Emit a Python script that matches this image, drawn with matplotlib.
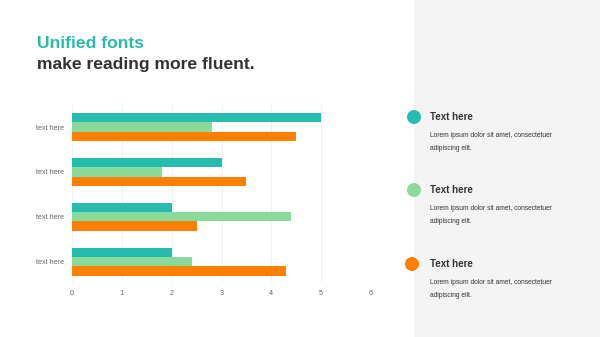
import numpy as np
import matplotlib.pyplot as plt
from matplotlib.patches import Rectangle, Ellipse

plt.rcParams['font.family'] = ['Liberation Sans', 'DejaVu Sans']

categories = ["text here", "text here", "text here", "text here"]
series_a = [5.0, 3.0, 2.0, 2.0]
series_b = [2.8, 1.8, 4.4, 2.4]
series_c = [4.5, 3.5, 2.5, 4.3]
colors = ["#26bdb0", "#8adb9a", "#ff8000"]
legend_titles = ["Text here", "Text here", "Text here"]
legend_body = "Lorem ipsum dolor sit amet, consectetuer\nadipiscing elit."

fig = plt.figure(figsize=(6, 3.37), dpi=100)

# grey side panel
fig.patches.append(Rectangle((414 / 600, 0), 186 / 600, 1, transform=fig.transFigure,
                             facecolor="#f4f4f4", edgecolor="none", zorder=0))

fig.text(37 / 600, 1 - 43 / 337, "Unified fonts", color="#2bbbad",
         fontsize=12.6, fontweight="bold", va="center")
fig.text(37 / 600, 1 - 64 / 337, "make reading more fluent.", color="#333333",
         fontsize=12.6, fontweight="bold", va="center")

ax = fig.add_axes([72 / 600, 1 - 282 / 337, 299 / 600, 177 / 337])
y = np.arange(len(categories))
h = 0.205
for i, vals in enumerate([series_a, series_b, series_c]):
    ax.barh(y + (i - 1) * h, vals, height=h, color=colors[i], zorder=2)

ax.set_xlim(0, 6)
ax.set_ylim(3.45, -0.49)
ax.set_xticks(range(7))
ax.set_yticks(y)
ax.set_yticklabels(categories)
ax.tick_params(length=0, labelsize=5.2, labelcolor="#666666")
ax.tick_params(axis="x", pad=6)
ax.tick_params(axis="y", pad=6)
ax.grid(axis="x", color="#eeeeee", linewidth=0.6, zorder=0)
for s in ax.spines.values():
    s.set_visible(False)

# legend-like notes on the right
ys = [117, 190, 264]
xs = [414, 414, 412]
for cx, cy, col, t in zip(xs, ys, colors, legend_titles):
    fig.patches.append(Ellipse((cx / 600, 1 - cy / 337), 14 / 600, 14 / 337,
                               transform=fig.transFigure,
                               facecolor=col, edgecolor="none", zorder=3))
    fig.text(430 / 600, 1 - cy / 337, t, color="#333333", fontsize=7,
             fontweight="bold", va="center")
    fig.text(430 / 600, 1 - (cy + 15) / 337, legend_body, color="#333333",
             fontsize=4.8, va="top", linespacing=2.2)

plt.savefig("out.png", dpi=100)
